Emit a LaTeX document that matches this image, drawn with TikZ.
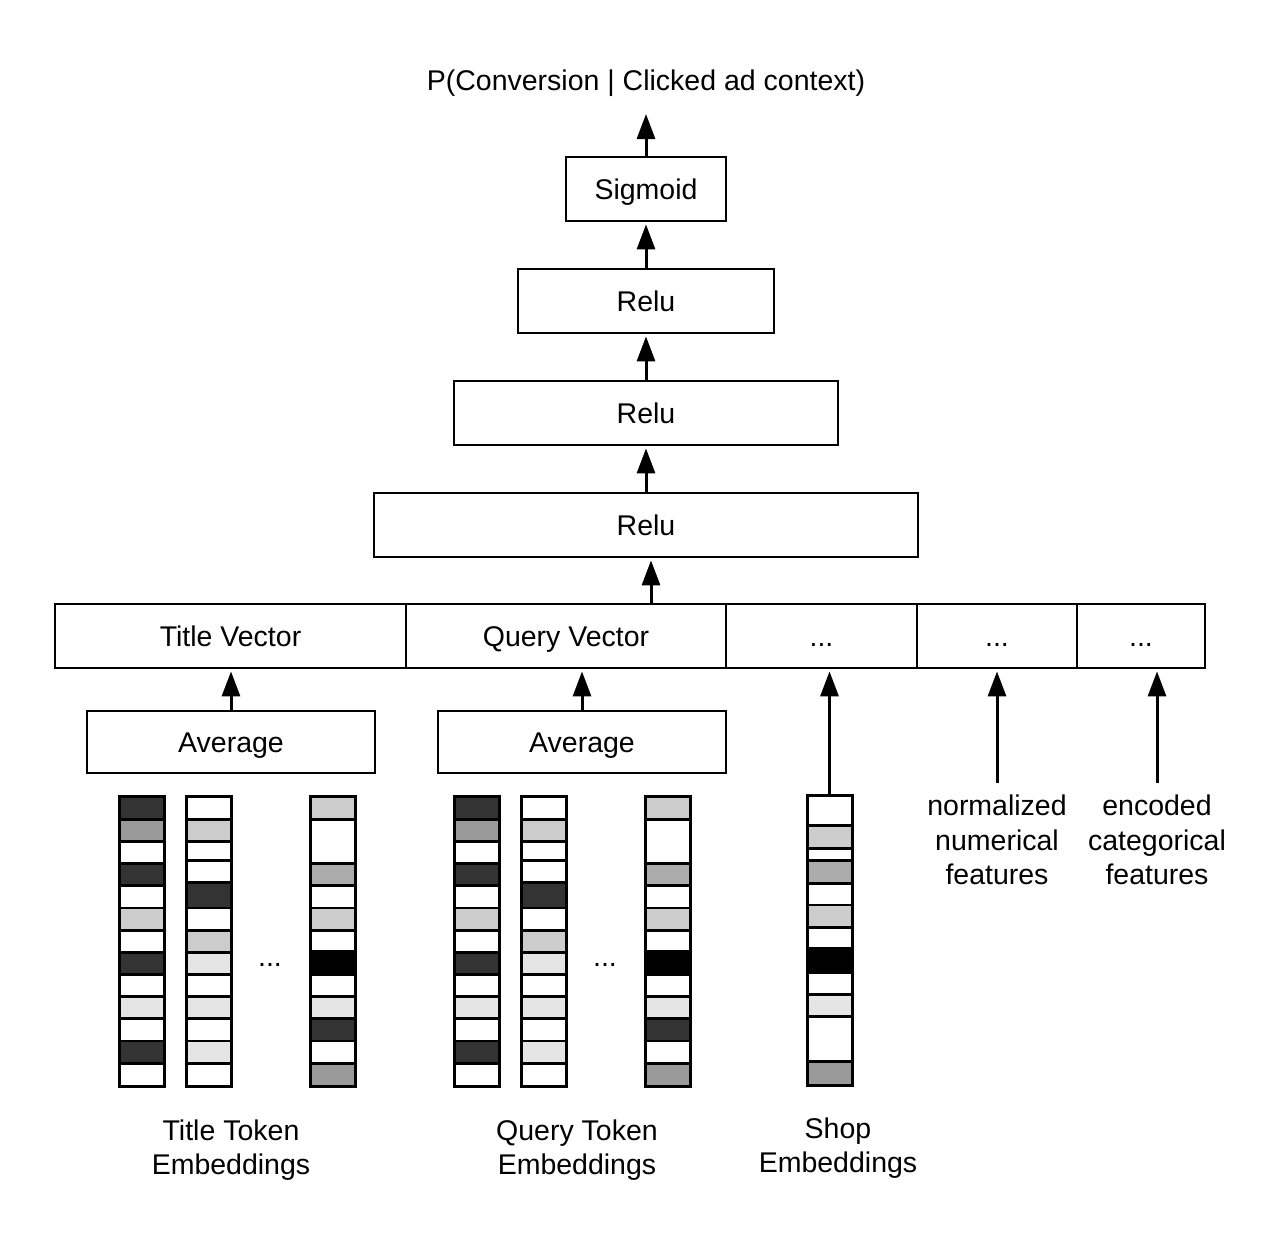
\documentclass[tikz,border=0pt]{standalone}
\usepackage{fontspec}
\setmainfont{Liberation Sans}
\usetikzlibrary{arrows.meta}
\colorlet{dk}{black!80}
\colorlet{gr}{black!40}
\colorlet{gb}{black!33}
\colorlet{lt}{black!20}
\colorlet{vl}{black!10}
\newcommand\embcol[4]{%
  \foreach \a/\b/\c in #4 {%
    \draw[cell,fill=\c] (#1,{#2+(\a-30)/875*(#3-#2)}) rectangle (#1+45,{#2+(\b-30)/875*(#3-#2)});
  }%
  \draw[line width=3pt] (#1,#2) rectangle (#1+45,#3);
}
\def\colA{30/100/dk,100/167/gr,167/234/white,234/301/dk,301/368/white,368/435/lt,435/502/white,502/568/dk,568/636/white,636/702/vl,702/769/white,769/836/dk,836/905/white}
\def\colB{30/100/white,100/167/lt,167/224/white,224/290/white,290/368/dk,368/435/white,435/502/lt,502/568/vl,568/636/white,636/702/vl,702/769/white,769/836/vl,836/905/white}
\def\colC{30/100/lt,100/234/white,234/301/gb,301/368/white,368/435/lt,435/500/white,500/568/black,568/636/white,636/702/vl,702/769/dk,769/836/white,836/905/gr}
\def\colS{30/123/white,123/191/lt,191/228/white,228/296/gb,296/362/white,362/429/lt,429/494/white,494/567/black,567/632/white,632/699/vl,699/833/white,833/905/gr}
\begin{document}
\begin{tikzpicture}[x=1pt,y=-1pt,
  font=\fontsize{28.5}{34.5}\selectfont,
  box/.style={draw,line width=2.8pt,minimum height=64pt,inner sep=0pt,text height=20.4pt,text depth=0pt},
  lbl/.style={align=center},
  arr/.style={line width=3pt,-{Triangle[length=25pt,width=18pt]},shorten >=2pt},
  cell/.style={draw,line width=2.8pt}]
\useasboundingbox (0,0) rectangle (1280,1242);
\fill[white] (0,0) rectangle (1280,1242);

% top stack
\node[text height=20.4pt,text depth=0pt] (title) at (646,80) {P(Conversion | Clicked ad context)};
\coordinate (tip) at (646,112);
\node[box,minimum width=160pt] (sig) at (646,189) {Sigmoid};
\node[box,minimum width=256pt] (relu1) at (646,301) {Relu};
\node[box,minimum width=384pt] (relu2) at (646,413) {Relu};
\node[box,minimum width=544pt] (relu3) at (646,525) {Relu};

% vector row
\node[box,minimum width=351pt] (tv) at (230.5,636) {Title Vector};
\node[box,minimum width=320pt] (qv) at (566,636) {Query Vector};
\node[box,minimum width=191pt] (d1) at (821.5,636) {...};
\node[box,minimum width=160pt] (d2) at (997,636) {...};
\node[box,minimum width=128pt] (d3) at (1141,636) {...};

% averages
\node[box,minimum width=288pt,minimum height=62pt] (avg1) at (231,742) {Average};
\node[box,minimum width=288pt,minimum height=62pt] (avg2) at (582,742) {Average};

% arrows
\draw[arr] (sig.north) -- (tip);
\draw[arr] (relu1.north) -- (sig.south);
\draw[arr] (relu2.north) -- (relu1.south);
\draw[arr] (relu3.north) -- (relu2.south);
\coordinate (vin) at (651,0);
\draw[arr] (vin |- qv.north) -- (vin |- relu3.south);
\draw[arr] (avg1.north) -- (avg1.north |- tv.south);
\draw[arr] (avg2.north) -- (avg2.north |- qv.south);

% embedding columns
\embcol{119}{796}{1086}{\colA}
\embcol{186}{796}{1086}{\colB}
\embcol{310}{796}{1086}{\colC}
\embcol{454}{796}{1086}{\colA}
\embcol{521}{796}{1086}{\colB}
\embcol{645}{796}{1086}{\colC}
\embcol{807}{795}{1085}{\colS}
\node[minimum width=45pt,minimum height=290pt,inner sep=0pt] (shop) at (829.5,940) {};
\draw[arr] (shop.north) -- (shop.north |- d1.south);

\node (dotsA) at (270,965) {...};
\node (dotsB) at (605,965) {...};

% feature labels
\node[lbl] (num) at (997,840) {normalized\\numerical\\features};
\node[lbl] (cat) at (1157,840) {encoded\\categorical\\features};
\coordinate (numtop) at (997,783);
\coordinate (cattop) at (1157,783);
\draw[arr] (numtop) -- (numtop |- d2.south);
\draw[arr] (cattop) -- (cattop |- d3.south);

% bottom labels
\node[lbl] (ttl) at (231,1150) {Title Token\\Embeddings};
\node[lbl] (qtl) at (577,1150) {Query Token\\Embeddings};
\node[lbl] (stl) at (838,1148) {Shop\\Embeddings};
\end{tikzpicture}
\end{document}
